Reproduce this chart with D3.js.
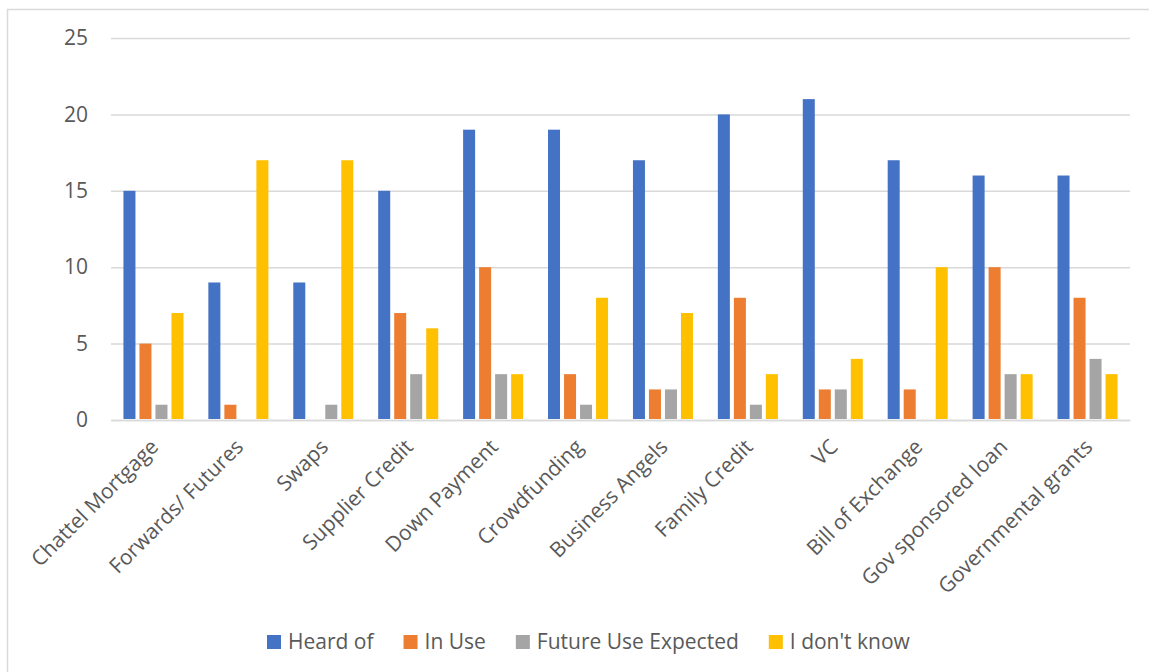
<!DOCTYPE html>
<html>
<head>
<meta charset="utf-8">
<script src="https://cdn.jsdelivr.net/npm/d3@7"></script>
<style>
  html, body { margin: 0; padding: 0; background: #fff; }
  svg { display: block; }
  text { font-family: "Open Sans", "Noto Sans", sans-serif; fill: #595959; }
</style>
</head>
<body>
<script>
// Financing instruments and awareness/usage counts
const categories = [
  "Chattel Mortgage", "Forwards/ Futures", "Swaps", "Supplier Credit",
  "Down Payment", "Crowdfunding", "Business Angels", "Family Credit",
  "VC", "Bill of Exchange", "Gov sponsored loan", "Governmental grants"
];
const seriesNames = ["Heard of", "In Use", "Future Use Expected", "I don't know"];
const heardOf        = [15, 9, 9, 15, 19, 19, 17, 20, 21, 17, 16, 16];
const inUse          = [5, 1, 0, 7, 10, 3, 2, 8, 2, 2, 10, 8];
const futureExpected = [1, 0, 1, 3, 3, 1, 2, 1, 2, 0, 3, 4];
const dontKnow       = [7, 17, 17, 6, 3, 8, 7, 3, 4, 10, 3, 3];
const yTicks = [0, 5, 10, 15, 20, 25];
const colors = ["#4472C4", "#ED7D31", "#A5A5A5", "#FFC000"];

const seriesValues = [heardOf, inUse, futureExpected, dontKnow];

const W = 1149, H = 672;
const plot = { left: 111, right: 1130, top: 38, bottom: 420 };

const svg = d3.select("body").append("svg")
  .attr("width", W).attr("height", H);

// chart frame
svg.append("rect")
  .attr("x", 7.5).attr("y", 9.5)
  .attr("width", W + 20).attr("height", H + 20)
  .attr("fill", "none").attr("stroke", "#d9d9d9").attr("stroke-width", 1.5);

const y = d3.scaleLinear().domain([0, 25]).range([plot.bottom, plot.top]);
const x0 = d3.scaleBand().domain(categories).range([plot.left, plot.right]).padding(0);
const groupW = x0.bandwidth() * 0.707;
const x1 = d3.scaleBand().domain(seriesNames)
  .range([(x0.bandwidth() - groupW) / 2, (x0.bandwidth() + groupW) / 2])
  .paddingInner(0.25).paddingOuter(0);

// gridlines
const yAxis = d3.axisLeft(y).tickValues(yTicks).tickSize(-(plot.right - plot.left)).tickPadding(23);
const gy = svg.append("g").attr("transform", `translate(${plot.left},0)`).call(yAxis);
gy.select(".domain").remove();
gy.selectAll(".tick line").attr("stroke", "#d9d9d9").attr("stroke-width", 1.5);
gy.selectAll(".tick text")
  .style("font-size", "21px").attr("fill", "#595959")
  .style("font-family", "'Open Sans', sans-serif");

// bars
const rows = categories.map((c, i) => ({ cat: c, vals: seriesNames.map((s, j) => ({ s, j, v: seriesValues[j][i] })) }));
const groups = svg.append("g").selectAll("g").data(rows).join("g")
  .attr("transform", d => `translate(${x0(d.cat)},0)`);
groups.selectAll("rect").data(d => d.vals.filter(e => e.v > 0)).join("rect")
  .attr("x", d => x1(d.s))
  .attr("width", x1.bandwidth())
  .attr("y", d => y(d.v))
  .attr("height", d => y(0) - y(d.v) - 1)
  .attr("fill", d => colors[d.j]);

// category axis
const xAxis = d3.axisBottom(x0).tickSize(0).tickSizeOuter(0);
const gx = svg.append("g").attr("transform", `translate(0,${plot.bottom})`).call(xAxis);
gx.select(".domain").attr("stroke", "#d9d9d9").attr("stroke-width", 1.5);
gx.selectAll(".tick text")
  .style("font-size", "21px")
  .style("font-family", "'Open Sans', sans-serif")
  .attr("fill", "#595959")
  .attr("text-anchor", "end")
  .attr("y", 0).attr("dy", "0.35em")
  .attr("transform", "translate(1,23) rotate(-45)");

// legend
const legend = svg.append("g").attr("transform", "translate(267,635)");
let lx = 0;
seriesNames.forEach((name, i) => {
  const g = legend.append("g").attr("transform", `translate(${lx},0)`);
  g.append("rect").attr("width", 14).attr("height", 14).attr("fill", colors[i]);
  const t = g.append("text").attr("x", 21).attr("y", 14)
    .style("font-size", "21px").text(name);
  lx += 21 + t.node().getComputedTextLength() + 30;
});
</script>
</body>
</html>
